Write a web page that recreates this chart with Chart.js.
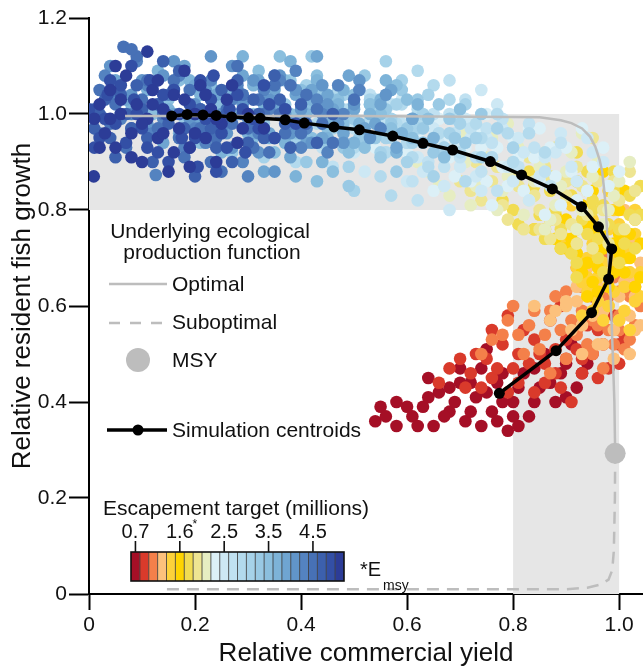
<!DOCTYPE html>
<html>
<head>
<meta charset="utf-8">
<script src="https://cdn.jsdelivr.net/npm/chart.js@4.4.0/dist/chart.umd.min.js"></script>
<style>
  html, body { margin: 0; padding: 0; background: #fff; }
  #wrap { width: 643px; height: 669px; }
</style>
</head>
<body>
<div id="wrap"><canvas id="chart" width="643" height="669"></canvas></div>
<script>
// axis ticks
const xTicks = [0, 0.2, 0.4, 0.6, 0.8, 1.0];
const yTicks = [0, 0.2, 0.4, 0.6, 0.8, 1.0, 1.2];

// escapement target colour scale (24 levels, low -> high)
const escColors = [
  "#a50f26", "#d93a2b", "#f4804a", "#fcc17c", "#fdd23a", "#ffd400",
  "#f1dc52", "#eee592", "#e6edc2", "#dcf0f7", "#cde8f4", "#c0e1f1",
  "#b3daed", "#a6d2e9", "#99c9e4", "#8bbfde", "#7db3d8", "#6fa5d1",
  "#6195c9", "#5483c0", "#4771b6", "#3c60ad", "#334fa5", "#2c3c97"
];
const cbarLabels = ["0.7", "1.6", "2.5", "3.5", "4.5"];
const cbarLabelCells = [0, 5, 10, 15, 20];

// simulation centroids (from high escapement to low)
const centX = [0.156, 0.185, 0.215, 0.240, 0.269, 0.301, 0.323, 0.370, 0.406, 0.462, 0.510, 0.573,
               0.630, 0.686, 0.757, 0.816, 0.874, 0.929, 0.961, 0.986, 0.980, 0.948, 0.881, 0.774];
const centY = [0.996, 0.999, 0.998, 0.997, 0.994, 0.992, 0.991, 0.988, 0.981, 0.973, 0.967, 0.954,
               0.939, 0.925, 0.901, 0.873, 0.844, 0.807, 0.765, 0.719, 0.656, 0.586, 0.507, 0.418];

// underlying production function
const optX = [0.068, 0.50, 0.80, 0.85, 0.89, 0.91, 0.93, 0.945, 0.955, 0.963, 0.968, 0.972, 0.975, 0.979, 0.984, 0.988, 0.991, 0.9925];
const optY = [0.996, 0.996, 0.994, 0.993, 0.987, 0.981, 0.970, 0.953, 0.932, 0.905, 0.880, 0.840, 0.800, 0.720, 0.620, 0.500, 0.400, 0.293];
const subX = [0.147, 0.90, 0.94, 0.965, 0.98, 0.987, 0.990, 0.992, 0.9925];
const subY = [0.010, 0.010, 0.013, 0.020, 0.030, 0.050, 0.090, 0.200, 0.293];
const msy = [0.9925, 0.293];

// grey target regions [xmin, xmax, ymin, ymax]
const bands = [[0, 1.0, 0.8, 1.0], [0.8, 1.0, 0, 0.8]];

// simulation runs, one array per escapement level
const g0 = [[0.54,0.36],[0.55,0.39],[0.58,0.40],[0.58,0.35],[0.61,0.37],[0.63,0.39],[0.65,0.35],[0.66,0.42],[0.68,0.38],[0.70,0.44],[0.71,0.36],[0.73,0.41],[0.74,0.47],[0.76,0.38],[0.77,0.44],[0.79,0.34],[0.80,0.40],[0.82,0.46],[0.83,0.37],[0.85,0.43],[0.86,0.50],[0.88,0.40],[0.89,0.46],[0.91,0.52],[0.92,0.43],[0.94,0.48],[0.75,0.51],[0.70,0.47],[0.64,0.45],[0.81,0.35],
  [0.56,0.37],[0.60,0.39],[0.62,0.35],[0.64,0.41],[0.67,0.37],[0.69,0.40],[0.72,0.38],[0.72,0.44],[0.74,0.35],[0.75,0.42],[0.78,0.40],[0.78,0.46],[0.80,0.37],[0.81,0.43],[0.84,0.40],[0.84,0.47],[0.87,0.44],[0.90,0.41],[0.90,0.48],[0.93,0.46],[0.77,0.36],[0.68,0.43]];
const g1 = [[0.68,0.47],[0.71,0.43],[0.73,0.50],[0.76,0.45],[0.78,0.52],[0.80,0.47],[0.82,0.55],[0.84,0.42],[0.85,0.50],[0.87,0.57],[0.88,0.46],[0.90,0.53],[0.91,0.40],[0.93,0.49],[0.94,0.56],[0.96,0.45],[0.97,0.52],[0.99,0.58],[1.00,0.48],[1.01,0.54],[0.95,0.62],[0.89,0.60],[0.79,0.58],[0.86,0.44],[0.92,0.51],
  [0.66,0.44],[0.70,0.49],[0.72,0.46],[0.74,0.43],[0.75,0.49],[0.77,0.47],[0.79,0.42],[0.81,0.50],[0.83,0.48],[0.84,0.53],[0.86,0.48],[0.88,0.51],[0.89,0.43],[0.90,0.49],[0.92,0.55],[0.93,0.46],[0.95,0.50],[0.96,0.55],[0.98,0.47],[1.00,0.52],[0.76,0.55],[0.81,0.44]];
const g2 = [[0.76,0.53],[0.79,0.57],[0.82,0.50],[0.84,0.59],[0.86,0.54],[0.88,0.62],[0.90,0.49],[0.91,0.57],[0.93,0.64],[0.94,0.52],[0.96,0.60],[0.97,0.47],[0.98,0.55],[0.99,0.66],[1.00,0.58],[1.01,0.51],[1.02,0.62],[1.03,0.56],[1.04,0.60],[0.92,0.68],[0.97,0.71],[0.87,0.46],[0.95,0.57],[1.00,0.63],
  [0.74,0.50],[0.78,0.54],[0.80,0.60],[0.81,0.54],[0.83,0.56],[0.85,0.51],[0.87,0.59],[0.89,0.55],[0.90,0.63],[0.92,0.54],[0.93,0.59],[0.95,0.50],[0.96,0.56],[0.98,0.62],[0.99,0.52],[1.00,0.55],[1.02,0.53],[1.03,0.64],[0.94,0.64]];
const g3 = [[0.84,0.60],[0.87,0.57],[0.92,0.64],[0.91,0.55],[0.92,0.61],[0.94,0.68],[0.95,0.58],[0.96,0.64],[0.97,0.52],[0.98,0.60],[0.99,0.70],[1.00,0.57],[1.01,0.65],[1.02,0.74],[1.03,0.62],[1.04,0.69],[0.96,0.75],[1.01,0.80],[0.93,0.50],[0.99,0.49],[1.03,0.55],[1.02,0.67],
  [0.90,0.60],[0.88,0.59],[0.90,0.61],[0.93,0.66],[0.93,0.56],[0.94,0.62],[0.95,0.70],[0.97,0.59],[0.98,0.66],[0.99,0.55],[1.00,0.62],[1.01,0.70],[1.02,0.58],[1.03,0.66],[1.04,0.56],[1.00,0.75],[0.96,0.52],[1.02,0.50]];
const g4 = [[0.90,0.74],[0.92,0.68],[0.92,0.76],[0.94,0.63],[0.94,0.70],[0.95,0.78],[0.96,0.66],[0.97,0.73],[0.98,0.60],[0.99,0.69],[1.00,0.77],[1.01,0.64],[1.02,0.72],[1.03,0.80],[1.04,0.67],[0.98,0.84],[1.00,0.57],[0.95,0.59],[1.03,0.61],[0.91,0.81],[1.01,0.70],
  [0.91,0.71],[0.93,0.65],[0.92,0.73],[0.94,0.66],[0.95,0.73],[0.96,0.61],[0.97,0.69],[0.98,0.76],[0.99,0.63],[1.00,0.72],[1.01,0.59],[1.02,0.67],[1.03,0.75],[1.04,0.62],[0.97,0.57],[0.93,0.58],[0.99,0.80],[1.02,0.55]];
const g5 = [[0.84,0.76],[0.88,0.74],[0.88,0.79],[0.93,0.67],[0.91,0.74],[0.93,0.81],[0.94,0.69],[0.95,0.76],[0.96,0.63],[0.97,0.72],[0.98,0.80],[0.99,0.67],[1.00,0.75],[1.01,0.84],[1.02,0.70],[1.03,0.78],[0.92,0.86],[0.97,0.88],[1.04,0.66],[0.89,0.72],[1.00,0.71],
  [0.86,0.76],[0.87,0.78],[0.90,0.72],[0.90,0.78],[0.92,0.71],[0.94,0.62],[0.94,0.77],[0.96,0.68],[0.97,0.76],[0.98,0.64],[0.99,0.73],[1.00,0.80],[1.01,0.67],[1.02,0.75],[1.03,0.64],[1.04,0.73],[0.95,0.84],[0.95,0.65]];
const g6 = [[0.78,0.82],[0.81,0.77],[0.84,0.85],[0.86,0.74],[0.88,0.80],[0.90,0.87],[0.91,0.71],[0.93,0.78],[0.94,0.84],[0.96,0.74],[0.97,0.81],[0.99,0.88],[1.00,0.76],[1.02,0.83],[1.03,0.72],[0.92,0.92],[0.89,0.72],[0.97,0.67],[1.04,0.79],[0.83,0.88],[0.95,0.80],
  [0.80,0.80],[0.84,0.76],[0.85,0.79],[0.87,0.84],[0.89,0.76],[0.91,0.83],[0.92,0.66],[0.94,0.75],[0.95,0.82],[0.96,0.70],[0.98,0.77],[0.99,0.84],[1.01,0.73],[1.02,0.79],[1.04,0.85],[0.92,0.69],[0.94,0.88],[1.00,0.69]];
const g7 = [[0.70,0.86],[0.74,0.82],[0.77,0.89],[0.79,0.78],[0.81,0.85],[0.83,0.91],[0.85,0.80],[0.87,0.87],[0.89,0.75],[0.90,0.83],[0.92,0.89],[0.94,0.79],[0.96,0.86],[0.98,0.73],[1.00,0.82],[1.02,0.88],[0.88,0.93],[0.85,0.76],[0.95,0.95],[1.03,0.78],[0.73,0.90],
  [0.72,0.84],[0.76,0.86],[0.78,0.81],[0.80,0.88],[0.82,0.76],[0.84,0.83],[0.86,0.89],[0.88,0.78],[0.90,0.86],[0.91,0.77],[0.93,0.85],[0.95,0.72],[0.97,0.80],[0.99,0.86],[1.01,0.76],[1.03,0.84],[0.87,0.74],[0.92,0.73]];
const g8 = [[0.62,0.90],[0.66,0.85],[0.69,0.93],[0.72,0.81],[0.74,0.88],[0.76,0.95],[0.78,0.84],[0.80,0.90],[0.82,0.79],[0.84,0.86],[0.86,0.92],[0.88,0.81],[0.90,0.88],[0.92,0.76],[0.94,0.84],[0.96,0.90],[0.98,0.80],[1.00,0.86],[0.79,0.98],[0.71,0.96],[0.86,0.76],[0.93,0.96],
  [0.64,0.88],[0.68,0.83],[0.71,0.90],[0.73,0.85],[0.75,0.91],[0.77,0.80],[0.79,0.87],[0.81,0.93],[0.83,0.82],[0.85,0.89],[0.87,0.78],[0.89,0.85],[0.91,0.92],[0.93,0.80],[0.95,0.87],[0.97,0.77],[0.99,0.83],[1.02,0.90]];
const g9 = [[0.54,0.93],[0.58,0.88],[0.62,0.96],[0.65,0.84],[0.68,0.91],[0.70,0.98],[0.72,0.86],[0.74,0.93],[0.76,0.81],[0.78,0.89],[0.80,0.95],[0.82,0.84],[0.84,0.91],[0.86,0.79],[0.88,0.87],[0.90,0.93],[0.92,0.82],[0.95,0.89],[0.98,0.85],[0.75,1.00],[0.66,0.99],[0.85,0.97],[0.93,0.97],
  [0.56,0.97],[0.60,0.92],[0.64,0.89],[0.67,0.95],[0.69,0.87],[0.71,0.93],[0.73,0.97],[0.75,0.86],[0.77,0.93],[0.79,0.85],[0.81,0.91],[0.83,0.97],[0.85,0.86],[0.87,0.93],[0.89,0.81],[0.91,0.88],[0.94,0.84],[0.97,0.93],[1.00,0.88]];
const g10 = [[0.44,0.94],[0.48,1.00],[0.52,0.88],[0.56,0.96],[0.59,1.03],[0.62,0.91],[0.65,0.97],[0.67,0.85],[0.69,0.93],[0.71,0.99],[0.73,0.87],[0.75,0.95],[0.77,1.02],[0.79,0.89],[0.81,0.95],[0.83,0.82],[0.86,0.91],[0.89,0.96],[0.92,0.86],[0.95,0.92],[0.68,0.80],[0.74,1.05],[0.60,0.86],
  [0.46,0.97],[0.50,0.92],[0.54,1.00],[0.58,0.93],[0.61,0.97],[0.63,0.88],[0.66,0.94],[0.68,0.99],[0.70,0.89],[0.72,0.95],[0.74,0.84],[0.76,0.91],[0.78,0.97],[0.80,0.86],[0.82,0.92],[0.85,0.87],[0.88,0.92],[0.91,0.89],[0.94,0.95],[0.97,0.90]];
const g11 = [[0.38,0.95],[0.42,1.01],[0.46,0.89],[0.50,0.97],[0.53,1.04],[0.56,0.92],[0.59,0.98],[0.61,0.86],[0.63,0.94],[0.65,1.00],[0.67,0.89],[0.69,0.96],[0.71,1.03],[0.73,0.91],[0.75,0.97],[0.77,0.84],[0.80,0.93],[0.83,0.98],[0.86,0.88],[0.89,0.94],[0.62,0.82],[0.68,1.07],[0.55,0.99],
  [0.40,0.98],[0.44,0.93],[0.48,1.01],[0.52,0.94],[0.55,0.97],[0.57,1.02],[0.60,0.94],[0.62,0.99],[0.64,0.90],[0.66,0.96],[0.68,1.00],[0.70,0.91],[0.72,0.97],[0.74,0.88],[0.76,0.94],[0.78,0.99],[0.81,0.89],[0.84,0.93],[0.87,0.85]];
const g12 = [[0.30,0.96],[0.35,1.03],[0.39,0.90],[0.43,0.98],[0.47,1.05],[0.50,0.93],[0.53,0.99],[0.55,0.87],[0.57,0.95],[0.59,1.02],[0.61,0.91],[0.63,0.98],[0.65,1.06],[0.67,0.93],[0.69,0.99],[0.71,0.86],[0.74,0.95],[0.77,1.00],[0.80,0.90],[0.83,0.96],[0.57,0.83],[0.62,1.09],[0.86,0.92],
  [0.33,0.99],[0.37,0.94],[0.41,1.02],[0.45,0.95],[0.49,1.01],[0.52,0.96],[0.54,1.03],[0.56,0.92],[0.58,0.98],[0.60,0.94],[0.62,1.01],[0.64,0.89],[0.66,0.96],[0.68,1.03],[0.70,0.92],[0.73,0.98],[0.76,0.91],[0.79,0.96]];
const g13 = [[0.24,0.97],[0.29,1.04],[0.33,0.91],[0.37,0.99],[0.41,1.06],[0.44,0.94],[0.47,1.00],[0.49,0.89],[0.51,0.97],[0.53,1.03],[0.55,0.92],[0.57,0.99],[0.59,1.07],[0.61,0.94],[0.63,1.00],[0.65,0.87],[0.68,0.96],[0.71,1.02],[0.74,0.91],[0.77,0.97],[0.50,0.84],[0.56,1.11],[0.80,0.93],
  [0.27,1.00],[0.31,0.96],[0.35,1.03],[0.39,0.95],[0.43,1.01],[0.46,0.97],[0.48,1.04],[0.52,0.94],[0.54,1.00],[0.56,0.95],[0.58,1.02],[0.60,0.90],[0.62,0.97],[0.64,1.04],[0.67,0.93],[0.70,0.98],[0.73,0.95]];
const g14 = [[0.18,0.98],[0.23,1.05],[0.27,0.92],[0.31,1.00],[0.35,0.95],[0.38,1.07],[0.41,0.90],[0.44,0.98],[0.46,1.03],[0.48,0.93],[0.50,0.99],[0.52,1.08],[0.54,0.95],[0.56,1.01],[0.58,0.88],[0.60,0.97],[0.62,1.03],[0.65,0.92],[0.68,0.99],[0.71,0.94],[0.49,0.85],[0.74,1.00],[0.42,1.12],
  [0.21,1.01],[0.25,0.96],[0.29,1.04],[0.33,0.98],[0.37,1.02],[0.40,0.96],[0.43,1.04],[0.45,0.94],[0.47,1.00],[0.51,0.95],[0.53,1.02],[0.55,0.91],[0.57,0.98],[0.59,1.05],[0.63,0.97],[0.66,1.02],[0.69,0.95]];
const g15 = [[0.12,1.00],[0.17,1.07],[0.21,0.94],[0.25,1.02],[0.29,0.97],[0.32,1.09],[0.35,0.92],[0.38,1.00],[0.40,1.05],[0.42,0.95],[0.44,1.01],[0.46,0.88],[0.48,0.98],[0.50,1.04],[0.52,0.93],[0.55,1.00],[0.58,1.06],[0.61,0.95],[0.64,0.99],[0.67,0.91],[0.43,0.86],[0.36,1.12],[0.70,1.01],
  [0.15,1.03],[0.19,0.99],[0.23,1.06],[0.27,1.00],[0.31,0.95],[0.34,1.02],[0.37,1.07],[0.39,0.96],[0.41,1.01],[0.43,1.08],[0.45,0.97],[0.47,1.03],[0.49,0.92],[0.53,1.02],[0.57,0.97],[0.60,1.03],[0.63,0.94]];
const g16 = [[0.08,1.02],[0.13,1.09],[0.17,0.96],[0.21,1.04],[0.25,0.92],[0.28,1.00],[0.31,1.06],[0.34,0.95],[0.36,1.01],[0.38,1.11],[0.40,0.97],[0.42,1.03],[0.44,0.90],[0.46,0.99],[0.48,1.05],[0.50,0.94],[0.53,1.00],[0.56,1.07],[0.59,0.96],[0.62,1.02],[0.39,0.87],[0.65,0.95],[0.29,1.12],
  [0.11,1.05],[0.15,1.01],[0.19,1.07],[0.23,0.99],[0.27,1.05],[0.30,0.96],[0.33,1.02],[0.35,1.08],[0.37,0.94],[0.41,1.00],[0.43,1.07],[0.45,0.95],[0.47,1.02],[0.51,0.98],[0.55,1.03],[0.58,0.92],[0.61,0.99]];
const g17 = [[0.05,1.07],[0.10,1.01],[0.14,0.94],[0.18,1.10],[0.21,0.99],[0.24,1.04],[0.27,0.93],[0.30,1.00],[0.32,1.07],[0.34,0.96],[0.36,1.02],[0.38,0.91],[0.40,0.99],[0.42,1.05],[0.44,0.95],[0.46,1.01],[0.49,1.08],[0.52,0.97],[0.55,1.02],[0.58,0.93],[0.33,0.88],[0.43,1.12],[0.61,0.99],
  [0.07,1.03],[0.12,1.06],[0.16,1.00],[0.20,1.06],[0.23,0.96],[0.26,1.01],[0.29,1.08],[0.31,0.96],[0.35,1.05],[0.37,0.99],[0.39,1.04],[0.41,0.94],[0.45,1.04],[0.48,0.96],[0.50,1.01],[0.54,0.98],[0.57,1.05]];
const g18 = [[0.04,1.10],[0.08,1.04],[0.11,0.98],[0.14,1.08],[0.17,0.95],[0.20,1.02],[0.23,1.12],[0.26,0.96],[0.28,1.05],[0.30,0.99],[0.32,0.92],[0.34,1.03],[0.36,1.08],[0.38,0.96],[0.40,1.01],[0.42,0.94],[0.44,1.06],[0.47,0.98],[0.50,1.02],[0.53,0.95],[0.56,1.04],[0.35,0.88],[0.27,1.10],
  [0.06,1.00],[0.10,1.07],[0.13,1.02],[0.16,1.11],[0.19,0.99],[0.22,1.05],[0.25,1.00],[0.27,0.93],[0.29,1.02],[0.31,1.07],[0.33,0.97],[0.37,1.00],[0.39,1.05],[0.41,0.97],[0.45,1.02],[0.48,0.94],[0.51,1.07]];
const g19 = [[0.03,1.08],[0.06,0.99],[0.09,1.11],[0.12,0.96],[0.15,1.04],[0.18,0.93],[0.21,1.01],[0.23,1.07],[0.25,0.97],[0.27,1.03],[0.29,0.90],[0.31,0.99],[0.33,1.05],[0.35,0.95],[0.37,1.01],[0.39,1.09],[0.41,0.97],[0.43,1.03],[0.45,0.92],[0.48,1.00],[0.51,1.05],[0.30,0.87],[0.55,0.97],[0.126,0.873],
  [0.02,0.96],[0.05,1.04],[0.08,1.00],[0.11,1.06],[0.14,0.99],[0.17,1.08],[0.20,0.97],[0.22,0.94],[0.26,1.00],[0.28,1.06],[0.32,0.96],[0.34,1.01],[0.36,1.07],[0.38,0.98],[0.40,0.93],[0.44,1.00],[0.47,1.06]];
const g20 = [[0.02,1.05],[0.04,0.98],[0.07,0.93],[0.10,1.03],[0.13,0.97],[0.16,1.07],[0.18,0.91],[0.20,1.00],[0.22,1.04],[0.24,0.95],[0.26,1.01],[0.28,1.10],[0.30,0.97],[0.32,1.03],[0.34,0.92],[0.36,1.00],[0.38,1.06],[0.40,0.96],[0.43,1.01],[0.46,0.94],[0.25,0.88],[0.09,1.12],[0.50,1.03],[0.065,1.14],[0.08,1.135],
  [0.01,1.01],[0.05,1.02],[0.08,0.97],[0.11,1.07],[0.14,1.00],[0.17,0.95],[0.19,1.05],[0.21,0.97],[0.23,0.90],[0.27,0.98],[0.29,1.04],[0.31,0.93],[0.33,1.00],[0.35,1.06],[0.37,0.96],[0.41,1.04],[0.44,0.98]];
const g21 = [[0.01,0.97],[0.03,1.03],[0.05,0.91],[0.07,1.00],[0.09,1.06],[0.11,0.95],[0.13,1.02],[0.15,0.98],[0.17,1.09],[0.19,0.93],[0.21,1.01],[0.23,0.97],[0.25,1.05],[0.27,0.90],[0.29,1.00],[0.31,1.03],[0.33,0.95],[0.35,1.08],[0.37,0.98],[0.40,1.02],[0.43,0.94],[0.20,0.87],[0.14,1.11],[0.46,1.00],
  [0.02,1.00],[0.04,0.95],[0.06,1.04],[0.08,0.97],[0.10,1.01],[0.12,0.90],[0.16,1.05],[0.18,0.97],[0.22,1.04],[0.24,0.93],[0.26,1.00],[0.28,1.07],[0.30,0.94],[0.32,1.00],[0.36,1.03],[0.38,0.93],[0.41,0.98]];
const g22 = [[0.00,1.01],[0.02,0.95],[0.035,1.04],[0.05,0.98],[0.07,0.94],[0.085,1.03],[0.10,0.97],[0.115,1.07],[0.13,0.92],[0.145,1.00],[0.16,1.05],[0.175,0.95],[0.19,1.02],[0.205,0.89],[0.22,0.99],[0.235,1.08],[0.25,0.96],[0.265,1.01],[0.28,1.04],[0.295,0.92],[0.31,0.99],[0.33,1.06],[0.35,0.95],[0.37,1.01],[0.39,0.98],[0.24,0.88],[0.08,1.10],
  [0.01,0.93],[0.03,0.99],[0.06,1.06],[0.09,1.00],[0.11,0.93],[0.14,1.04],[0.17,1.00],[0.20,0.95],[0.23,1.03],[0.26,0.93],[0.29,1.01],[0.32,0.97],[0.34,1.02],[0.15,0.90],[0.21,1.07],[0.04,1.07]];
const g23 = [[0.01,0.99],[0.02,1.02],[0.03,0.96],[0.04,1.05],[0.05,0.93],[0.06,1.00],[0.07,1.08],[0.08,0.96],[0.09,1.02],[0.10,0.90],[0.11,0.99],[0.12,1.05],[0.13,0.95],[0.14,1.01],[0.15,0.88],[0.16,1.04],[0.17,0.97],[0.18,1.09],[0.19,0.93],[0.20,1.00],[0.21,1.06],[0.22,0.95],[0.23,1.01],[0.24,0.90],[0.25,0.98],[0.26,1.03],[0.28,0.94],[0.30,1.00],[0.33,0.97],[0.11,1.13],[0.009,0.87],
  [0.02,0.93],[0.04,0.99],[0.06,1.03],[0.08,0.91],[0.10,0.98],[0.12,1.02],[0.14,0.96],[0.16,0.92],[0.18,1.03],[0.20,0.96],[0.22,1.04],[0.24,0.99],[0.27,1.06],[0.29,0.97],[0.13,1.07],[0.05,1.10],[0.19,0.89]];
const groups = [g0, g1, g2, g3, g4, g5, g6, g7, g8, g9, g10, g11, g12, g13, g14, g15, g16, g17, g18, g19, g20, g21, g22, g23];

const FONT = "'Liberation Sans', Arial, Helvetica, sans-serif";
const GREY = "#bdbdbd";

const xy = (xs, ys) => xs.map((x, i) => ({ x: x, y: ys[i] }));

// first dataset is drawn on top in Chart.js
const datasets = [
  {
    label: "Simulation centroids",
    data: xy(centX, centY),
    showLine: true,
    borderColor: "#000",
    borderWidth: 3.5,
    pointRadius: 5.5,
    pointBackgroundColor: "#000",
    pointBorderWidth: 0
  },
  {
    label: "MSY",
    data: [{ x: msy[0], y: msy[1] }],
    pointRadius: 10.5,
    pointBackgroundColor: GREY,
    pointBorderWidth: 0
  },
  {
    label: "Optimal",
    data: xy(optX, optY),
    showLine: true,
    borderColor: GREY,
    borderWidth: 2.5,
    pointRadius: 0
  },
  {
    label: "Suboptimal",
    data: xy(subX, subY),
    showLine: true,
    borderColor: GREY,
    borderWidth: 2.5,
    borderDash: [12, 8],
    pointRadius: 0
  }
];
for (let i = groups.length - 1; i >= 0; i--) {
  datasets.push({
    label: "esc" + i,
    data: groups[i].map(p => ({ x: p[0], y: p[1] })),
    pointRadius: 6.3,
    pointBackgroundColor: escColors[i],
    pointBorderWidth: 0
  });
}

const bandPlugin = {
  id: "bands",
  beforeDatasetsDraw(chart) {
    const { ctx, scales: { x, y } } = chart;
    ctx.save();
    ctx.fillStyle = "#e6e6e6";
    bands.forEach(b => {
      const x0 = x.getPixelForValue(b[0]), x1 = x.getPixelForValue(b[1]);
      const y0 = y.getPixelForValue(b[3]), y1 = y.getPixelForValue(b[2]);
      ctx.fillRect(x0, y0, x1 - x0, y1 - y0);
    });
    ctx.restore();
  }
};

const legendPlugin = {
  id: "legendText",
  afterDraw(chart) {
    const ctx = chart.ctx;
    ctx.save();
    ctx.fillStyle = "#111";
    ctx.textBaseline = "middle";

    // production function legend
    ctx.font = "21px " + FONT;
    ctx.textAlign = "center";
    ctx.fillText("Underlying ecological", 210, 232);
    ctx.fillText("production function", 212, 253);
    ctx.textAlign = "left";
    ctx.fillText("Optimal", 172, 285);
    ctx.fillText("Suboptimal", 172, 323);
    ctx.fillText("MSY", 172, 361);
    ctx.fillText("Simulation centroids", 172, 431);

    ctx.strokeStyle = GREY;
    ctx.lineWidth = 2.5;
    ctx.beginPath(); ctx.moveTo(109, 284); ctx.lineTo(167, 284); ctx.stroke();
    ctx.setLineDash([11, 10]);
    ctx.beginPath(); ctx.moveTo(109, 323); ctx.lineTo(167, 323); ctx.stroke();
    ctx.setLineDash([]);
    ctx.fillStyle = GREY;
    ctx.beginPath(); ctx.arc(138, 360, 12, 0, Math.PI * 2); ctx.fill();
    ctx.strokeStyle = "#000";
    ctx.lineWidth = 3.5;
    ctx.beginPath(); ctx.moveTo(107, 430); ctx.lineTo(167, 430); ctx.stroke();
    ctx.fillStyle = "#000";
    ctx.beginPath(); ctx.arc(138, 430, 5.5, 0, Math.PI * 2); ctx.fill();

    // colour bar
    const bx = 131, by = 552, bw = 213, bh = 29;
    const cw = bw / escColors.length;
    escColors.forEach((c, i) => {
      ctx.fillStyle = c;
      ctx.fillRect(bx + i * cw, by, cw, bh);
    });
    ctx.strokeStyle = "#333";
    ctx.lineWidth = 0.8;
    for (let i = 1; i < escColors.length; i++) {
      ctx.beginPath(); ctx.moveTo(bx + i * cw, by); ctx.lineTo(bx + i * cw, by + bh); ctx.stroke();
    }
    ctx.strokeStyle = "#111";
    ctx.lineWidth = 1.6;
    ctx.strokeRect(bx, by, bw, bh);

    ctx.fillStyle = "#111";
    ctx.font = "21px " + FONT;
    ctx.textAlign = "left";
    ctx.fillText("Escapement target (millions)", 103, 509);
    ctx.font = "20px " + FONT;
    ctx.textAlign = "center";
    ctx.lineWidth = 1.6;
    cbarLabelCells.forEach((ci, k) => {
      const cx = bx + (ci + 0.5) * cw;
      ctx.beginPath(); ctx.moveTo(cx, by - 11); ctx.lineTo(cx, by); ctx.stroke();
      ctx.fillText(cbarLabels[k], cx, 532);
    });
    ctx.font = "12px " + FONT;
    ctx.fillText("*", bx + (cbarLabelCells[1] + 0.5) * cw + 15, 525);

    ctx.textAlign = "left";
    ctx.font = "20px " + FONT;
    ctx.fillText("*E", 360, 570);
    ctx.font = "14px " + FONT;
    ctx.fillText("msy", 383, 586);
    ctx.restore();
  }
};

new Chart(document.getElementById("chart"), {
  type: "scatter",
  data: { datasets: datasets },
  options: {
    responsive: false,
    animation: false,
    events: [],
    layout: { autoPadding: false, padding: { top: 18, right: 0, left: 0, bottom: 0 } },
    plugins: { legend: { display: false }, tooltip: { enabled: false } },
    scales: {
      x: {
        type: "linear",
        min: 0,
        max: 1.045,
        afterBuildTicks: s => { s.ticks = xTicks.map(v => ({ value: v })); },
        afterFit: s => { s.height = 75; s.paddingLeft = 0; s.paddingRight = 0; },
        ticks: {
          color: "#111",
          font: { family: FONT, size: 21 },
          padding: 3,
          maxRotation: 0,
          callback: v => (v === 0 ? "0" : v.toFixed(1))
        },
        grid: { drawOnChartArea: false, tickLength: 16, tickWidth: 2, tickColor: "#000" },
        border: { color: "#000", width: 2 },
        title: {
          display: true,
          text: "Relative commercial yield",
          color: "#111",
          font: { family: FONT, size: 26 },
          padding: { top: 1, bottom: 0 }
        }
      },
      y: {
        type: "linear",
        min: 0,
        max: 1.2,
        afterBuildTicks: s => { s.ticks = yTicks.map(v => ({ value: v })); },
        afterFit: s => { s.width = 89; s.paddingTop = 0; s.paddingBottom = 0; },
        ticks: {
          color: "#111",
          font: { family: FONT, size: 21 },
          padding: 2,
          callback: v => (v === 0 ? "0" : v.toFixed(1))
        },
        grid: { drawOnChartArea: false, tickLength: 20, tickWidth: 2, tickColor: "#000" },
        border: { color: "#000", width: 2 },
        title: {
          display: true,
          text: "Relative resident fish growth",
          color: "#111",
          font: { family: FONT, size: 26 },
          padding: { top: 7, bottom: 0 }
        }
      }
    }
  },
  plugins: [bandPlugin, legendPlugin]
});
</script>
</body>
</html>
